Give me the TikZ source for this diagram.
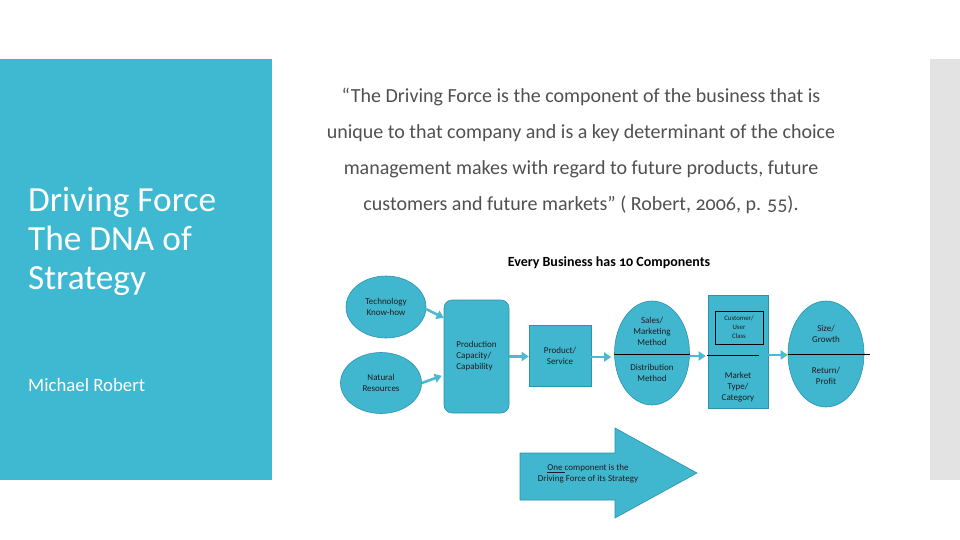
\documentclass[tikz,border=0pt]{standalone}
\usepackage{fontspec}
\setmainfont{Carlito}[Numbers=OldStyle]
\usetikzlibrary{arrows.meta,shapes.geometric,calc}
\definecolor{panel}{HTML}{3FB8D1}
\definecolor{strip}{HTML}{E3E3E3}
\definecolor{shapefill}{HTML}{40B6CF}
\definecolor{shapeline}{HTML}{2C93AD}
\definecolor{arrowblue}{HTML}{4DB9D2}
\definecolor{quotegrey}{HTML}{505050}
\definecolor{inktext}{HTML}{1E1E1E}
\tikzset{
  shp/.style={fill=shapefill, draw=shapeline, line width=0.6pt, inner sep=0pt,
    text=inktext, font=\fontsize{9}{11}\selectfont, align=center},
  ell/.style={shp, ellipse},
  boxr/.style={shp, rectangle},
  conn/.style={draw=arrowblue, line width=2.6pt, -{Triangle[length=7pt,width=9pt]}},
  divider/.style={draw=black, line width=0.8pt},
  lbl/.style={inner sep=0pt, text=inktext, font=\fontsize{9}{11}\selectfont, align=center},
  quote/.style={inner sep=0pt, text=quotegrey, font=\fontsize{20}{22}\selectfont},
  titletext/.style={inner sep=0pt, text=white, anchor=base west}
}
\begin{document}
\begin{tikzpicture}[x=1pt,y=-1pt]
\useasboundingbox (0,0) rectangle (960,540);
\fill[white] (0,0) rectangle (960,540);
\fill[panel] (0,59) rectangle (272,480);
\fill[strip] (930,59) rectangle (960,480);

% left panel text
\node[titletext, font=\fontsize{35.3}{39}\selectfont] (t1) at (28,211) {Driving Force};
\node[titletext, font=\fontsize{35.3}{39}\selectfont] (t2) at (28,250) {The DNA of};
\node[titletext, font=\fontsize{35.3}{39}\selectfont] (t3) at (28,289) {Strategy};
\node[titletext, font=\fontsize{18.8}{22}\selectfont] (author) at (28,391) {Michael Robert};

% quote
\node[quote] (q1) at (581,97) {“The Driving Force is the component of the business that is};
\node[quote] (q2) at (581,133) {unique to that company and is a key determinant of the choice};
\node[quote] (q3) at (581,169) {management makes with regard to future products, future};
\node[quote] (q4) at (581,205) {customers and future markets” ( Robert, 2006, p. 55).};

\node[inner sep=0pt, text=black, font=\bfseries\fontsize{14}{16}\selectfont] (head) at (609,263) {Every Business has 10 Components};

% diagram
\node[ell, minimum width=80pt, minimum height=62pt] (tech) at (386,307) {Technology\\Know-how};
\node[ell, minimum width=81pt, minimum height=61pt] (nat) at (381,383) {Natural\\Resources};
\node[boxr, rounded corners=8pt, minimum width=65pt, minimum height=113pt, align=left] (prod) at (476.5,356.5) {Production\\Capacity/\\Capability};
\node[boxr, minimum width=62pt, minimum height=61pt] (serv) at (560,355.5) {Product/\\Service};
\node[ell, minimum width=75pt, minimum height=104pt] (sales) at (652,353) {};
\node[boxr, minimum width=60pt, minimum height=113pt] (market) at (738,351.5) {};
\node[ell, minimum width=76pt, minimum height=106pt] (size) at (826,354) {};

% inner content
\draw[divider] (sales.west |- 0,354) -- (690,354);
\node[lbl] (salestop) at (652,331) {Sales/\\Marketing\\Method};
\node[lbl] (salesbot) at (652,372.5) {Distribution\\Method};

\node[draw=black, line width=0.7pt, minimum width=48pt, minimum height=33pt, inner sep=0pt,
  text=inktext, font=\fontsize{6.8}{9}\selectfont, align=center] (cust) at (739,327.5) {Customer/\\User\\Class};
\draw[divider] (707,355) -- (759,355);
\node[lbl] (mkt) at (738,387) {Market\\Type/\\Category};

\draw[divider] (size.west |- 0,354) -- (870,354);
\node[lbl] (sizetop) at (826,333.5) {Size/\\Growth};
\node[lbl] (sizebot) at (826,376) {Return/\\Profit};

% connectors
\draw[conn] (tech.-3) -- ($(prod.north west)!0.16!(prod.south west)$);
\draw[conn] (nat.east) -- ($(prod.north west)!0.67!(prod.south west)+(-2,0)$);
\draw[conn] (prod.east) -- (prod.east -| serv.west);
\draw[conn, shorten >=3pt] (serv.east |- 0,357) -- (sales.west |- 0,357);
\draw[conn, shorten >=2pt] (sales.east |- 0,356) -- (market.west |- 0,356);
\draw[conn] (market.east |- 0,355) -- (size.west |- 0,355);

% big arrow
\draw[fill=shapefill, draw=shapeline, line width=0.6pt]
  (520,453) -- (615,453) -- (615,428) -- (697,473) -- (615,518) -- (615,500) -- (520,500) -- cycle;
\node[lbl] (bigtext) at (588,474) {\underline{One }component is the\\Driving Force of its Strategy};
\end{tikzpicture}
\end{document}
